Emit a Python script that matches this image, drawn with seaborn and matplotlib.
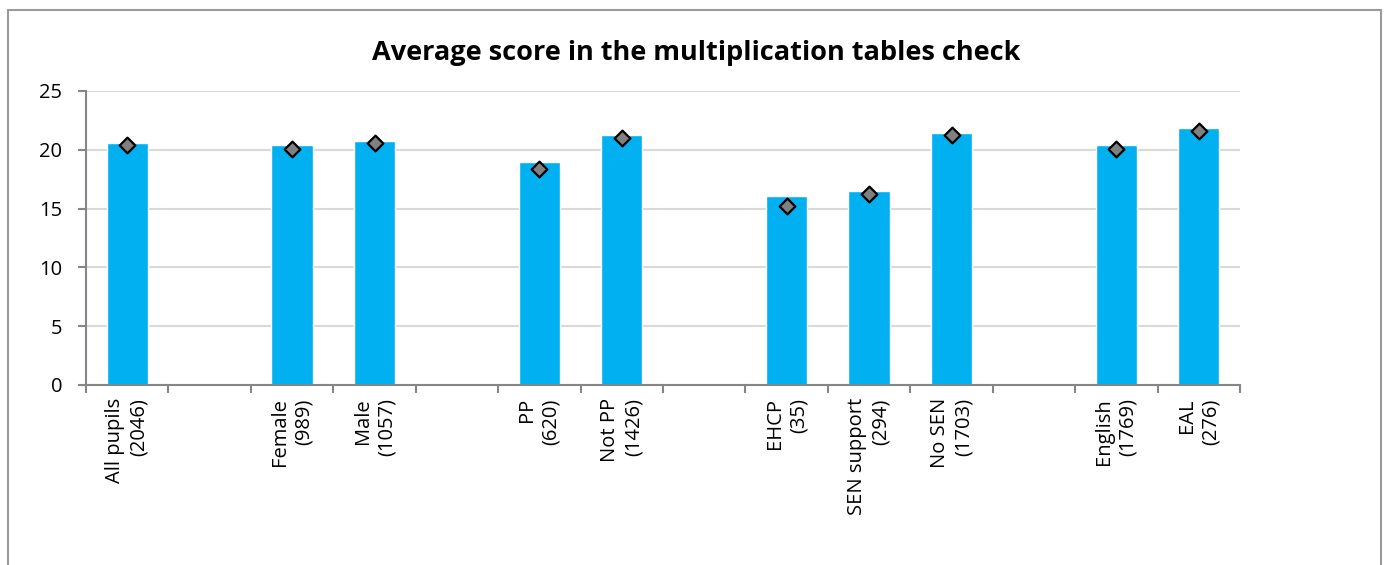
import pandas as pd
import matplotlib.pyplot as plt
import seaborn as sns
from matplotlib.patches import Rectangle
from matplotlib.ticker import FixedLocator

# Slots on the x axis (blank strings are the gaps between groups)
slots = ["All pupils\n(2046)", " ", "Female\n(989)", "Male\n(1057)", "  ",
         "PP\n(620)", "Not PP\n(1426)", "   ", "EHCP\n(35)", "SEN support\n(294)",
         "No SEN\n(1703)", "    ", "English\n(1769)", "EAL\n(276)"]

groups = ["All pupils\n(2046)", "Female\n(989)", "Male\n(1057)", "PP\n(620)",
          "Not PP\n(1426)", "EHCP\n(35)", "SEN support\n(294)", "No SEN\n(1703)",
          "English\n(1769)", "EAL\n(276)"]
school_score = [20.57, 20.37, 20.79, 18.98, 21.28, 16.06, 16.51, 21.39, 20.40, 21.87]
national_score = [20.43, 20.06, 20.60, 18.38, 21.00, 15.23, 16.20, 21.30, 20.09, 21.62]

df = pd.DataFrame({"group": groups, "school": school_score, "national": national_score})

sns.set_style("white")
plt.rcParams["font.family"] = ["Open Sans", "DejaVu Sans"]
plt.rcParams["text.color"] = "black"
plt.rcParams["xtick.labelcolor"] = "black"
plt.rcParams["ytick.labelcolor"] = "black"

fig, ax = plt.subplots(figsize=(13.92, 5.65), dpi=100)
fig.subplots_adjust(left=86 / 1392, right=1240 / 1392, top=1 - 91 / 565, bottom=1 - 385 / 565)

sns.barplot(data=df, x="group", y="school", order=slots, color="#00B0F0",
            width=0.5, saturation=1, ax=ax)
sns.stripplot(data=df, x="group", y="national", order=slots, jitter=False,
              marker="D", size=8, color="#808080", edgecolor="black",
              linewidth=1.6, ax=ax, zorder=5)

ax.set_ylim(0, 25)
ax.set_xlim(-0.5, len(slots) - 0.5)
ax.set_yticks([0, 5, 10, 15, 20, 25])
ax.yaxis.grid(True, color="#d9d9d9", linewidth=1.5)
ax.set_axisbelow(True)
ax.set_xlabel("")
ax.set_ylabel("")

for side in ["top", "right"]:
    ax.spines[side].set_visible(False)
for side in ["left", "bottom"]:
    ax.spines[side].set_color("#868686")
    ax.spines[side].set_linewidth(1.5)

ax.tick_params(axis="y", left=True, length=6, width=1.5, color="#868686",
               labelsize=14.5, pad=11, labelcolor="black")
ax.tick_params(axis="x", bottom=False, labelsize=14.5, pad=6, labelcolor="black")
ax.xaxis.set_minor_locator(FixedLocator([i - 0.5 for i in range(len(slots) + 1)]))
ax.tick_params(axis="x", which="minor", bottom=True, length=6, width=1.5,
               color="#868686")

ax.set_xticks(range(len(slots)))
ax.set_xticklabels(slots, rotation=90, ha="center", va="top",
                   multialignment="right", linespacing=1.25)

fig.text(0.5, 1 - 53 / 565, "Average score in the multiplication tables check",
         ha="center", va="center", fontsize=19.5, fontweight="bold", color="black")

fig.patches.append(Rectangle((8 / 1392, -0.1), (1381 - 8) / 1392, 1.1 - 10 / 565,
                             transform=fig.transFigure, fill=False,
                             edgecolor="#9a9a9a", linewidth=1.5))

fig.savefig("out.png", dpi=100)
